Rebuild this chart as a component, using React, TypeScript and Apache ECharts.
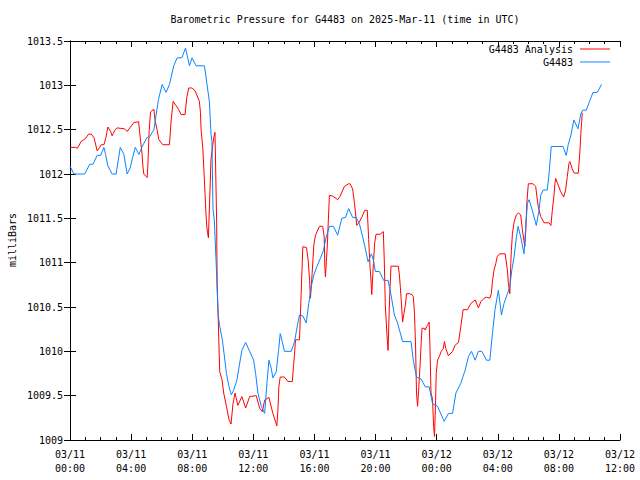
import React, { useEffect, useRef } from "react";
import * as echarts from "echarts";

// hours since 03/11 00:00 UTC
const analysisHours = [
  0.0, 0.35, 0.48, 0.74, 0.96, 1.22, 1.39, 1.57, 1.78, 1.94, 2.04, 2.22, 2.35, 2.48, 2.66, 2.76, 2.92, 3.07, 3.57, 3.74,
  3.96, 4.18, 4.49, 4.62, 4.7, 4.77, 4.83, 5.05, 5.09, 5.18, 5.27, 5.49, 5.57, 5.7, 5.81, 6.07, 6.51, 6.62, 6.75, 6.94,
  7.1, 7.27, 7.53, 7.64, 7.77, 7.97, 8.18, 8.47, 8.54, 8.58, 8.69, 8.8, 8.9, 8.97, 9.06, 9.23, 9.41, 9.49, 9.6, 9.63,
  9.69, 9.8, 9.95, 10.06, 10.24, 10.41, 10.54, 10.67, 10.8, 10.99, 11.25, 11.5, 11.76, 12.19, 12.41, 12.59, 12.74, 13.02, 13.28, 13.54,
  13.61, 13.67, 13.76, 14.04, 14.26, 14.55, 14.63, 14.7, 14.76, 15.02, 15.13, 15.24, 15.48, 15.59, 15.68, 15.74, 15.85, 15.96, 16.07, 16.33,
  16.54, 16.64, 16.68, 16.72, 16.85, 16.9, 16.98, 17.2, 17.52, 17.68, 17.96, 18.24, 18.33, 18.5, 18.62, 18.77, 18.94, 19.12, 19.29, 19.46,
  19.55, 19.64, 19.71, 19.75, 19.86, 19.94, 20.03, 20.29, 20.51, 20.57, 20.64, 20.75, 20.82, 20.9, 20.95, 21.01, 21.49, 21.55, 21.62, 21.68,
  21.77, 21.86, 21.95, 22.03, 22.21, 22.38, 22.47, 22.55, 22.62, 22.68, 22.75, 22.82, 22.91, 22.99, 23.04, 23.19, 23.25, 23.38, 23.51, 23.56,
  23.63, 23.73, 23.8, 23.86, 23.93, 23.97, 24.06, 24.17, 24.3, 24.43, 24.51, 24.6, 24.77, 25.04, 25.21, 25.43, 25.58, 25.73, 26.02, 26.24,
  26.52, 26.73, 26.89, 27.11, 27.26, 27.48, 27.58, 27.65, 27.76, 27.87, 27.97, 28.13, 28.48, 28.63, 28.69, 28.79, 28.85, 28.89, 28.96, 29.07,
  29.22, 29.35, 29.5, 29.61, 29.77, 29.83, 29.9, 30.0, 30.31, 30.48, 30.65, 30.81, 31.03, 31.35, 31.48, 31.57, 31.68, 31.74, 31.79, 31.92,
  32.12, 32.31, 32.44, 32.55, 32.66, 32.72, 32.87, 33.0, 33.27, 33.31, 33.38, 33.44, 33.53,
];
const analysisValues = [
  1012.3, 1012.3, 1012.29, 1012.37, 1012.39, 1012.45, 1012.45, 1012.41, 1012.26, 1012.3, 1012.33, 1012.33, 1012.41, 1012.53, 1012.48, 1012.43, 1012.49, 1012.52, 1012.51, 1012.48,
  1012.53, 1012.58, 1012.59, 1012.37, 1012.26, 1012.09, 1012.0, 1011.96, 1012.07, 1012.48, 1012.7, 1012.73, 1012.6, 1012.5, 1012.39, 1012.33, 1012.33, 1012.6, 1012.82, 1012.77,
  1012.73, 1012.67, 1012.67, 1012.86, 1012.97, 1012.97, 1012.94, 1012.82, 1012.69, 1012.5, 1012.3, 1011.92, 1011.55, 1011.38, 1011.28, 1012.17, 1012.41, 1012.47, 1011.45, 1010.79,
  1010.43, 1009.77, 1009.68, 1009.53, 1009.38, 1009.23, 1009.18, 1009.41, 1009.53, 1009.39, 1009.49, 1009.36, 1009.49, 1009.5, 1009.36, 1009.32, 1009.45, 1009.48, 1009.3, 1009.16,
  1009.34, 1009.6, 1009.71, 1009.71, 1009.66, 1009.66, 1009.83, 1009.98, 1010.13, 1010.13, 1010.65, 1011.18, 1011.17, 1011.03, 1010.8, 1010.6, 1010.88, 1011.2, 1011.31, 1011.41,
  1011.41, 1011.29, 1010.95, 1010.84, 1011.22, 1011.44, 1011.76, 1011.75, 1011.71, 1011.75, 1011.86, 1011.89, 1011.89, 1011.83, 1011.67, 1011.42, 1011.46, 1011.52, 1011.59, 1011.59,
  1011.26, 1010.95, 1010.77, 1010.64, 1010.99, 1011.22, 1011.32, 1011.32, 1011.35, 1011.03, 1010.52, 1010.18, 1010.01, 1010.5, 1010.73, 1010.96, 1010.96, 1010.88, 1010.73, 1010.58,
  1010.33, 1010.43, 1010.52, 1010.65, 1010.65, 1010.64, 1010.62, 1010.43, 1010.05, 1009.53, 1009.38, 1009.56, 1009.83, 1010.11, 1010.26, 1010.26, 1010.24, 1010.29, 1010.33, 1010.05,
  1009.53, 1009.46, 1009.15, 1009.04, 1009.45, 1009.75, 1009.9, 1009.94, 1010.0, 1010.03, 1010.11, 1010.03, 1009.95, 1010.0, 1010.07, 1010.1, 1010.28, 1010.47, 1010.47, 1010.54,
  1010.58, 1010.49, 1010.56, 1010.6, 1010.61, 1010.6, 1010.65, 1010.79, 1010.92, 1010.99, 1011.07, 1011.1, 1011.1, 1010.92, 1010.77, 1010.65, 1010.99, 1011.14, 1011.33, 1011.46,
  1011.54, 1011.56, 1011.54, 1011.37, 1011.18, 1011.35, 1011.67, 1011.89, 1011.89, 1011.86, 1011.63, 1011.52, 1011.45, 1011.45, 1011.42, 1011.59, 1011.76, 1011.89, 1011.95, 1011.89,
  1011.8, 1011.74, 1011.82, 1011.97, 1012.12, 1012.14, 1012.06, 1012.01, 1012.01, 1012.1, 1012.27, 1012.46, 1012.69,
];

const stationHours = [
  0.0, 0.26, 0.96, 1.29, 1.5, 1.78, 2.01, 2.22, 2.33, 2.48, 2.76, 3.02, 3.18, 3.29, 3.53, 3.74, 3.94, 4.12, 4.27, 4.51,
  4.7, 5.03, 5.21, 5.49, 5.64, 5.79, 6.03, 6.29, 6.51, 6.79, 7.01, 7.32, 7.56, 7.82, 7.99, 8.25, 8.8, 8.97, 9.12, 9.23,
  9.29, 9.36, 9.45, 9.58, 9.69, 9.8, 9.97, 10.08, 10.24, 10.41, 10.56, 10.71, 10.93, 11.1, 11.25, 11.5, 11.76, 12.02, 12.15, 12.3,
  12.52, 12.74, 12.91, 13.02, 13.17, 13.28, 13.5, 13.65, 13.76, 13.89, 14.04, 14.48, 14.7, 14.87, 15.02, 15.24, 15.46, 15.63, 15.79, 15.96,
  16.15, 16.39, 16.59, 16.77, 16.98, 17.24, 17.52, 17.79, 18.03, 18.24, 18.5, 18.73, 18.94, 19.16, 19.33, 19.51, 19.73, 19.86, 19.99, 20.25,
  20.53, 20.82, 21.03, 21.23, 21.44, 21.77, 22.32, 22.47, 22.68, 22.97, 23.25, 23.51, 23.73, 24.06, 24.49, 24.77, 25.04, 25.26, 25.58, 25.87,
  26.08, 26.28, 26.52, 26.73, 26.96, 27.26, 27.48, 27.65, 27.82, 28.04, 28.24, 28.41, 28.63, 28.79, 28.92, 29.07, 29.22, 29.33, 29.5, 29.72,
  29.83, 29.94, 30.05, 30.26, 30.52, 30.7, 30.81, 30.98, 31.24, 31.35, 31.5, 32.27, 32.48, 32.61, 32.79, 32.98, 33.25, 33.44, 33.57, 33.79,
  34.01, 34.23, 34.51, 34.79,
];
const stationValues = [
  1012.09, 1012.0, 1012.0, 1012.11, 1012.11, 1012.21, 1012.21, 1012.3, 1012.22, 1012.09, 1012.0, 1012.0, 1012.18, 1012.3, 1012.22, 1012.0, 1012.07, 1012.2, 1012.3, 1012.22,
  1012.3, 1012.41, 1012.42, 1012.5, 1012.67, 1012.84, 1013.01, 1012.92, 1013.01, 1013.22, 1013.31, 1013.31, 1013.42, 1013.22, 1013.31, 1013.22, 1013.22, 1013.01, 1012.82, 1012.45,
  1012.37, 1011.6, 1011.47, 1010.94, 1010.43, 1010.28, 1010.13, 1009.98, 1009.75, 1009.6, 1009.51, 1009.56, 1009.68, 1009.86, 1010.01, 1010.1, 1010.0, 1009.9, 1009.75, 1009.53,
  1009.38, 1009.3, 1009.68, 1009.9, 1009.81, 1009.7, 1009.77, 1010.01, 1010.2, 1010.11, 1010.0, 1010.0, 1010.11, 1010.28, 1010.41, 1010.4, 1010.32, 1010.54, 1010.73, 1010.86,
  1010.95, 1011.05, 1011.14, 1011.29, 1011.41, 1011.41, 1011.31, 1011.5, 1011.51, 1011.61, 1011.51, 1011.51, 1011.44, 1011.29, 1011.16, 1011.01, 1011.1, 1011.03, 1010.9, 1010.9,
  1010.8, 1010.8, 1010.62, 1010.41, 1010.32, 1010.11, 1010.11, 1009.9, 1009.71, 1009.69, 1009.6, 1009.6, 1009.41, 1009.38, 1009.21, 1009.3, 1009.3, 1009.53, 1009.64, 1009.79,
  1009.94, 1010.0, 1009.9, 1010.0, 1010.0, 1009.9, 1009.9, 1010.2, 1010.47, 1010.69, 1010.41, 1010.54, 1010.65, 1010.73, 1010.92, 1011.07, 1011.29, 1011.41, 1011.29, 1011.1,
  1011.41, 1011.67, 1011.71, 1011.59, 1011.42, 1011.59, 1011.76, 1011.82, 1011.82, 1011.99, 1012.31, 1012.31, 1012.21, 1012.33, 1012.44, 1012.61, 1012.51, 1012.68, 1012.72, 1012.72,
  1012.82, 1012.92, 1012.92, 1013.01,
];

const seriesNames = ["G4483 Analysis", "G4483"];
const titleText = "Barometric Pressure for G4483 on 2025-Mar-11 (time in UTC)";
const yAxisTitle = "milliBars";
const dayLabels = ["03/11", "03/12"];

const FONT = "'DejaVu Sans Mono', 'Liberation Mono', monospace";

function formatHour(h: number): string {
  const day = dayLabels[Math.floor(h / 24)] ?? dayLabels[dayLabels.length - 1];
  const hh = Math.round(h % 24);
  return `${day}\n${String(hh).padStart(2, "0")}:00`;
}

export default function App() {
  const ref = useRef<HTMLDivElement>(null);
  useEffect(() => {
    if (!ref.current) return;
    const chart = echarts.init(ref.current, null, { renderer: "svg" });
    const axisLine = { show: true, lineStyle: { color: "#000", width: 1 } };
    const xCommon = {
      type: "value" as const,
      min: 0,
      max: 36,
      interval: 4,
      axisLine,
      axisTick: { show: true, inside: true, length: 6, lineStyle: { color: "#000" } },
      minorTick: { show: true, splitNumber: 4, length: 3, lineStyle: { color: "#000" } },
      splitLine: { show: false },
      minorSplitLine: { show: false },
    };
    const yCommon = {
      type: "value" as const,
      min: 1009,
      max: 1013.5,
      interval: 0.5,
      axisLine,
      axisTick: { show: true, inside: true, length: 6, lineStyle: { color: "#000" } },
      splitLine: { show: false },
    };
    const legendCommon = {
      right: 30,
      padding: 0,
      icon: "rect",
      itemWidth: 30,
      itemHeight: 1,
      itemGap: 0,
      align: "right" as const,
      textStyle: { fontFamily: FONT, fontSize: 10, color: "#000", padding: [0, 2, 0, 0] },
    };
    chart.setOption({
      animation: false,
      backgroundColor: "#fff",
      textStyle: { fontFamily: FONT },
      graphic: [
        {
          type: "text",
          x: 345,
          y: 19,
          style: { text: titleText, fill: "#000", font: `10px ${FONT}`, align: "center", verticalAlign: "middle" },
        },
        {
          type: "text",
          x: 12,
          y: 240,
          rotation: Math.PI / 2,
          style: { text: yAxisTitle, fill: "#000", font: `10px ${FONT}`, align: "center", verticalAlign: "middle" },
        },
      ],
      grid: { left: 70, top: 41, width: 550, height: 399, containLabel: false },
      legend: [
        { ...legendCommon, data: [seriesNames[0]], top: 44 },
        { ...legendCommon, data: [seriesNames[1]], top: 57 },
      ],
      xAxis: [
        {
          ...xCommon,
          position: "bottom",
          axisLabel: {
            show: true,
            color: "#000",
            fontFamily: FONT,
            fontSize: 10,
            lineHeight: 14,
            margin: 7,
            formatter: (v: number) => formatHour(v),
          },
        },
        { ...xCommon, position: "top", axisLabel: { show: false } },
      ],
      yAxis: [
        {
          ...yCommon,
          position: "left",
          axisLabel: {
            show: true,
            color: "#000",
            fontFamily: FONT,
            fontSize: 10,
            margin: 7,
            formatter: (v: number) => String(v),
          },
        },
        { ...yCommon, position: "right", axisLabel: { show: false } },
      ],
      series: [
        {
          name: seriesNames[0],
          type: "line",
          xAxisIndex: 0,
          yAxisIndex: 0,
          data: analysisHours.map((h, i) => [h, analysisValues[i]]),
          showSymbol: false,
          symbol: "none",
          color: "#ff0000",
          lineStyle: { color: "#ff0000", width: 1 },
        },
        {
          name: seriesNames[1],
          type: "line",
          xAxisIndex: 0,
          yAxisIndex: 0,
          data: stationHours.map((h, i) => [h, stationValues[i]]),
          showSymbol: false,
          symbol: "none",
          color: "#0a84ff",
          lineStyle: { color: "#0a84ff", width: 1 },
        },
      ],
    });
    return () => chart.dispose();
  }, []);
  return <div ref={ref} style={{ width: 640, height: 480, position: "absolute", left: 0, top: 0 }} />;
}
